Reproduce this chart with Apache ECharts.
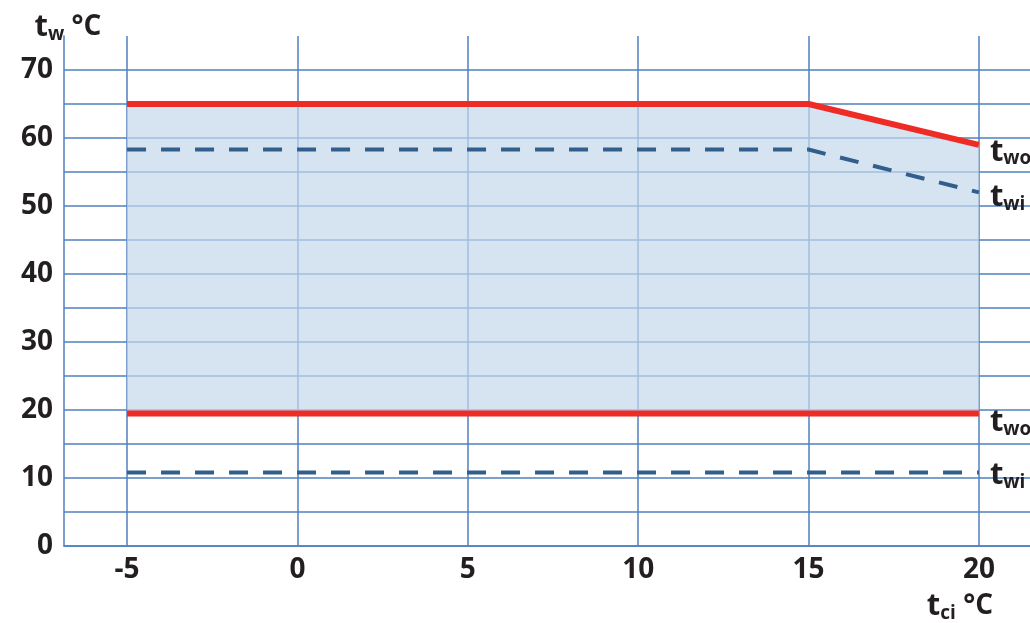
<!DOCTYPE html>
<html>
<head>
<meta charset="utf-8">
<title>Operating envelope</title>
<script src="https://cdn.jsdelivr.net/npm/echarts@6/dist/echarts.min.js"></script>
<style>
  html, body { margin: 0; padding: 0; background: #ffffff; }
  #chart { width: 1030px; height: 623px; }
</style>
</head>
<body>
<div id="chart"></div>
<script>
// Condenser inlet temperature t_ci (°C) at the corner points of the envelope
const tci = [-5, 15, 20];
// Water outlet / inlet temperature limits (°C)
const twoMax = [65, 65, 59];
const twiMax = [58.3, 58.3, 52];
const twoMin = [19.5, 19.5, 19.5];
const twiMin = [10.8, 10.8, 10.8];
// Axis ticks and labels
const xTicks = [-5, 0, 5, 10, 15, 20];
const yGridTicks = [0, 5, 10, 15, 20, 25, 30, 35, 40, 45, 50, 55, 60, 65, 70];
const yLabelTicks = [0, 10, 20, 30, 40, 50, 60, 70];

const FONT = 'Open Sans';
const TEXT = '#231f20';
const GRID = '#4f81bd';
const RED = '#ee2b24';
const DASH = '#325e8c';

const pts = (ys) => tci.map((x, i) => [x, ys[i]]);

const richT = {
  t: { fontFamily: FONT, fontWeight: 'bold', fontSize: 31, color: TEXT },
  s: { fontFamily: FONT, fontWeight: 'bold', fontSize: 19, color: TEXT, padding: [14, 0, 0, 0] },
  u: { fontFamily: FONT, fontWeight: 'bold', fontSize: 28, color: TEXT }
};

const subLabel = (sub, dy) => ({
  show: true,
  formatter: '{t|t}{s|' + sub + '}',
  distance: 11,
  offset: [0, dy],
  rich: richT
});

const chart = echarts.init(document.getElementById('chart'), null, { renderer: 'canvas' });

chart.setOption({
  animation: false,
  backgroundColor: '#ffffff',
  grid: { left: 64, right: 0, top: 36, bottom: 77, containLabel: false },
  xAxis: {
    type: 'value',
    min: -6.85,
    max: 21.5,
    name: '{t|t}{s|ci}{u| °C}',
    nameLocation: 'end',
    nameGap: -37,
    nameTextStyle: {
      align: 'right',
      verticalAlign: 'top',
      padding: [44, 0, 0, 0],
      rich: richT
    },
    axisLine: { show: true, onZero: false, lineStyle: { color: GRID, width: 1.5 } },
    axisTick: { show: false, customValues: xTicks },
    axisLabel: {
      customValues: xTicks,
      margin: 10,
      fontFamily: FONT, fontWeight: 'bold', fontSize: 28, color: TEXT
    },
    splitLine: { show: true, lineStyle: { color: GRID, width: 1.5 } }
  },
  yAxis: {
    type: 'value',
    min: 0,
    max: 75,
    name: '{t|t}{s|w}{u| °C}',
    nameLocation: 'end',
    nameGap: -8,
    nameTextStyle: {
      align: 'center',
      verticalAlign: 'bottom',
      padding: [0, 0, 0, 8],
      rich: richT
    },
    axisLine: { show: true, onZero: false, lineStyle: { color: GRID, width: 1.5 } },
    axisTick: { show: false, customValues: yGridTicks },
    axisLabel: {
      customValues: yLabelTicks,
      margin: 11,
      fontFamily: FONT, fontWeight: 'bold', fontSize: 28, color: TEXT
    },
    splitLine: { show: true, lineStyle: { color: GRID, width: 1.5 } }
  },
  series: [
    {
      name: 'two max',
      type: 'line',
      data: pts(twoMax),
      symbol: 'none',
      lineStyle: { color: RED, width: 6 },
      areaStyle: { origin: twoMin[0], color: '#c4d9ec', opacity: 0.7 },
      endLabel: subLabel('wo', 7),
      z: 3
    },
    {
      name: 'twi max',
      type: 'line',
      data: pts(twiMax),
      symbol: 'none',
      lineStyle: { color: DASH, width: 4, type: [19, 15] },
      endLabel: subLabel('wi', 5),
      z: 4
    },
    {
      name: 'two min',
      type: 'line',
      data: pts(twoMin),
      symbol: 'none',
      lineStyle: { color: RED, width: 6 },
      endLabel: subLabel('wo', 9),
      z: 4
    },
    {
      name: 'twi min',
      type: 'line',
      data: pts(twiMin),
      symbol: 'none',
      lineStyle: { color: DASH, width: 4, type: [19, 15] },
      endLabel: subLabel('wi', 3),
      z: 4
    }
  ]
});
</script>
</body>
</html>
